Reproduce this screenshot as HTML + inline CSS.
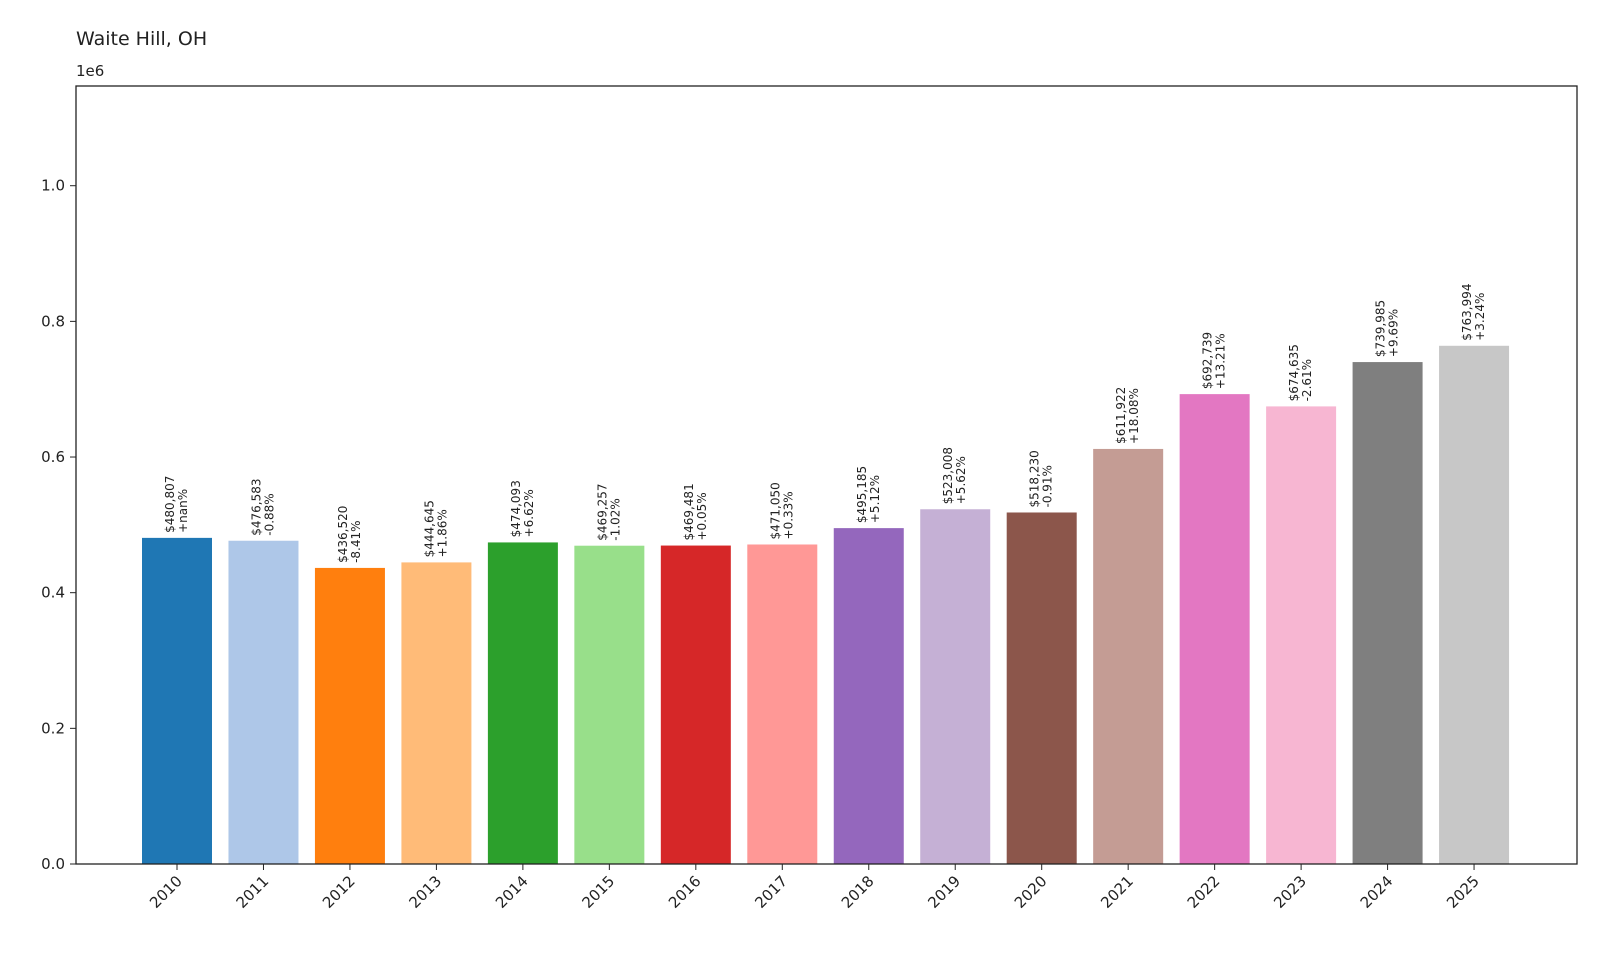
<!DOCTYPE html>
<html><head><meta charset="utf-8"><style>
html,body{margin:0;padding:0;background:#fff;}
svg{display:block;font-family:"DejaVu Sans","Liberation Sans",sans-serif;}
</style></head><body>
<svg id="chart" width="1600" height="960" viewBox="0 0 1600 960">
<rect width="1600" height="960" fill="#fff"/>
<text x="76" y="45" font-size="19" fill="#222">Waite Hill, OH</text>
<text x="76" y="76" font-size="15" fill="#222">1e6</text>
<g id="bars"></g>
<g id="yticks"></g>
<g id="xticks"></g>
<rect x="76" y="86" width="1501" height="778" fill="none" stroke="#222" stroke-width="1.3"/>
</svg>
<script>
const years = ["2010","2011","2012","2013","2014","2015","2016","2017","2018","2019","2020","2021","2022","2023","2024","2025"];
const values = [480807,476583,436520,444645,474093,469257,469481,471050,495185,523008,518230,611922,692739,674635,739985,763994];
const changes = ["+nan%","-0.88%","-8.41%","+1.86%","+6.62%","-1.02%","+0.05%","+0.33%","+5.12%","+5.62%","-0.91%","+18.08%","+13.21%","-2.61%","+9.69%","+3.24%"];
const yTicks = [0,0.2e6,0.4e6,0.6e6,0.8e6,1.0e6];
const yTickLabels = ["0.0","0.2","0.4","0.6","0.8","1.0"];
const colors = ["#1f77b4","#aec7e8","#ff7f0e","#ffbb78","#2ca02c","#98df8a","#d62728","#ff9896","#9467bd","#c5b0d5","#8c564b","#c49c94","#e377c2","#f7b6d2","#7f7f7f","#c7c7c7"];
const NS="http://www.w3.org/2000/svg";
const yMax=1.147e6, plotTop=86, plotBottom=864;
function y(v){return plotBottom-(v/yMax)*(plotBottom-plotTop);}
function x(i){return 177+i*86.47;}
const bw=70;
const bars=document.getElementById('bars');
values.forEach((v,i)=>{
  const r=document.createElementNS(NS,'rect');
  r.setAttribute('x',x(i)-bw/2);r.setAttribute('y',y(v));
  r.setAttribute('width',bw);r.setAttribute('height',plotBottom-y(v));
  r.setAttribute('fill',colors[i]);
  
  
  bars.appendChild(r);
  const t=document.createElementNS(NS,'text');
  const tx=x(i), ty=y(v)-5;
  t.setAttribute('transform','translate('+tx+','+ty+') rotate(-90)');
  t.setAttribute('font-size','12');t.setAttribute('fill','#222');
  const s1=document.createElementNS(NS,'tspan');s1.setAttribute('x','0');s1.setAttribute('y','-3');
  s1.textContent='$'+v.toLocaleString('en-US');
  const s2=document.createElementNS(NS,'tspan');s2.setAttribute('x','0');s2.setAttribute('y','10');
  s2.textContent=changes[i];
  t.appendChild(s1);t.appendChild(s2);
  
  
  bars.appendChild(t);
});
const yt=document.getElementById('yticks');
yTicks.forEach((v,i)=>{
  const l=document.createElementNS(NS,'line');
  l.setAttribute('x1',70);l.setAttribute('x2',76);l.setAttribute('y1',y(v));l.setAttribute('y2',y(v));
  l.setAttribute('stroke','#222');
  
  
  yt.appendChild(l);
  const t=document.createElementNS(NS,'text');
  t.setAttribute('x',65);t.setAttribute('y',y(v)+5);t.setAttribute('text-anchor','end');
  t.setAttribute('font-size','15');t.setAttribute('fill','#222');
  t.textContent=yTickLabels[i];
  
  
  yt.appendChild(t);
});
const xt=document.getElementById('xticks');
years.forEach((yr,i)=>{
  const l=document.createElementNS(NS,'line');
  l.setAttribute('x1',x(i));l.setAttribute('x2',x(i));l.setAttribute('y1',864);l.setAttribute('y2',870);
  l.setAttribute('stroke','#222');
  
  
  xt.appendChild(l);
  const t=document.createElementNS(NS,'text');
  t.setAttribute('transform','translate('+(x(i)+6)+',882) rotate(-45)');
  t.setAttribute('text-anchor','end');
  t.setAttribute('font-size','15');t.setAttribute('fill','#222');
  t.textContent=yr;
  
  
  xt.appendChild(t);
});
</script>
</body></html>
